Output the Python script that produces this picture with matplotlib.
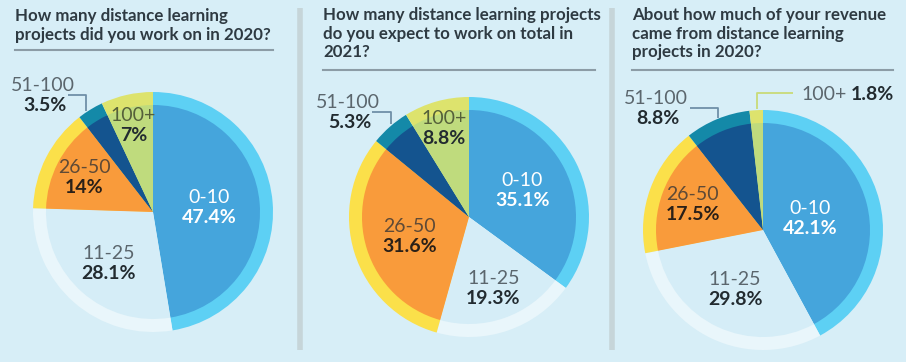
import matplotlib.pyplot as plt
import numpy as np

# --- data -------------------------------------------------------------
categories = ["0-10", "11-25", "26-50", "51-100", "100+"]
titles = [
    "How many distance learning\nprojects did you work on in 2020?",
    "How many distance learning projects\ndo you expect to work on total in\n2021?",
    "About how much of your revenue\ncame from distance learning\nprojects in 2020?",
]
projects_2020 = [47.4, 28.1, 14.0, 3.5, 7.0]
projects_2021 = [35.1, 19.3, 31.6, 5.3, 8.8]
revenue_2020 = [42.1, 29.8, 17.5, 8.8, 1.8]
pct_labels_2020 = ["47.4%", "28.1%", "14%", "3.5%", "7%"]
pct_labels_2021 = ["35.1%", "19.3%", "31.6%", "5.3%", "8.8%"]
pct_labels_rev = ["42.1%", "29.8%", "17.5%", "8.8%", "1.8%"]

# --- style ------------------------------------------------------------
W, H = 906, 362
bg = "#D7EEF7"
inner_cols = ["#45A5DC", "#D5EDF7", "#F99B3B", "#14548F", "#BFDB7D"]
ring_cols = ["#5DD0F4", "#E9F6FB", "#FBE04A", "#1489A8", "#DDE36D"]
name_cols = ["white", "#5B666D", "#5F4A36", "#5B666D", "#55603A"]
pct_cols = ["white", "#222B30", "#2A2018", "#222B30", "#222B30"]
title_col = "#2E3A42"
font = "Lato"
lab_fs = 14

R_OUT, R_IN = 120, 107

panels = [
    dict(vals=projects_2020, pcts=pct_labels_2020, title=titles[0], tx=15, ty=8, line_y=50, line_x1=273,
         c=(153, 212), lab_r=[0.53, 0.63, 0.72, None, 0.83],
         outside={3: dict(text=(43, 95), elbow=[(68, 95), (86, 95), (86, 111)], col="#6F8FA8")}),
    dict(vals=projects_2021, pcts=pct_labels_2021, title=titles[1], tx=323, ty=7, line_y=70, line_x1=595,
         c=(469, 217), lab_r=[0.56, 0.70, 0.58, None, 0.86],
         outside={3: dict(text=(348, 112), elbow=[(372, 112), (391, 112), (391, 124)], col="#6F8FA8")}),
    dict(vals=revenue_2020, pcts=pct_labels_rev, title=titles[2], tx=632, ty=7, line_y=70, line_x1=893,
         c=(763, 230), lab_r=[0.45, 0.61, 0.70, None, None],
         outside={3: dict(text=(656, 108), elbow=[(690, 108), (718, 108), (718, 118)], col="#6F8FA8"),
                  4: dict(text=None, elbow=[(793, 93), (757, 93), (757, 109)], col="#C9DB78")}),
]

fig = plt.figure(figsize=(W / 100, H / 100), dpi=100, facecolor=bg)
ax = fig.add_axes([0, 0, 1, 1])
ax.set_facecolor(bg)

# y axis runs downward (pixel style), so start at -90 and go "counterclock" = clockwise on screen
for p in panels:
    cx, cy = p["c"]
    ax.pie(p["vals"], colors=ring_cols, radius=R_OUT, center=(cx, cy), startangle=-90,
           counterclock=True, wedgeprops=dict(linewidth=0))
    wedges, _ = ax.pie(p["vals"], colors=inner_cols, radius=R_IN, center=(cx, cy), startangle=-90,
                       counterclock=True, wedgeprops=dict(linewidth=0))

    for i, w in enumerate(wedges):
        f = p["lab_r"][i]
        if f is None:
            continue
        a = np.deg2rad((w.theta1 + w.theta2) / 2)
        lx = cx + f * R_IN * np.cos(a)
        ly = cy + f * R_IN * np.sin(a)
        ax.text(lx, ly - 1, categories[i], ha="center", va="bottom", fontsize=lab_fs,
                color=name_cols[i], family=font)
        ax.text(lx, ly + 2, p["pcts"][i], ha="center", va="top", fontsize=lab_fs,
                color=pct_cols[i], family=font, fontweight="bold")

    for i, o in p["outside"].items():
        xs, ys = zip(*o["elbow"])
        ax.plot(xs, ys, color=o["col"], lw=1.3, solid_capstyle="butt")
        if o["text"] is not None:
            tx, ty = o["text"]
            ax.text(tx, ty - 1, categories[i], ha="center", va="bottom", fontsize=lab_fs,
                    color="#5B666D", family=font)
            ax.text(tx + 2, ty + 2, p["pcts"][i], ha="center", va="top", fontsize=lab_fs,
                    color="#222B30", family=font, fontweight="bold")

    ax.text(p["tx"], p["ty"], p["title"], ha="left", va="top", fontsize=12.2, color=title_col,
            family=font, fontweight="bold", linespacing=1.2)
    ax.plot([p["tx"], p["line_x1"]], [p["line_y"], p["line_y"]], color="#8C9CA6", lw=1.5)

# right-hand "100+ 1.8%" label of the revenue pie
ax.text(801, 94, categories[4], ha="left", va="center", fontsize=lab_fs, color="#5B666D",
        family=font)
ax.text(851, 94, pct_labels_rev[4], ha="left", va="center", fontsize=lab_fs, color="#222B30",
        family=font, fontweight="bold")

# vertical dividers
for x in (300, 612):
    ax.plot([x, x], [8, 350], color="#C6D5D9", lw=4, solid_capstyle="butt")

ax.set_xlim(0, W)
ax.set_ylim(H, 0)
ax.set_aspect("auto")
ax.axis("off")

fig.savefig("out.png", dpi=100, facecolor=bg)
